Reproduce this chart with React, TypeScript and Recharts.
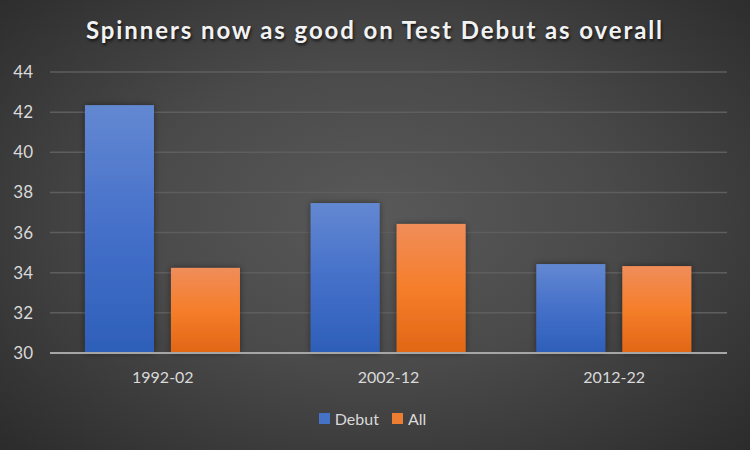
import React from 'react';
import { BarChart, Bar, XAxis, YAxis, CartesianGrid, Legend } from 'recharts';

const categories = ['1992-02', '2002-12', '2012-22'];
const debutValues = [42.35, 37.47, 34.43];
const allValues = [34.24, 36.43, 34.33];
const yTicks = [30, 32, 34, 36, 38, 40, 42, 44];

const data = categories.map((c, i) => ({ period: c, Debut: debutValues[i], All: allValues[i] }));

const FONT = 'Lato, "Open Sans", "Noto Sans", sans-serif';

const makeShape = (gradId: string) => (props: any) => {
  const { x, y, width, height } = props;
  if (!height || height <= 0) return null;
  return <rect x={x} y={y} width={width} height={height} fill={`url(#${gradId})`} filter="url(#barShadow)" />;
};

const LegendContent = () => (
  <div style={{ display: 'flex', justifyContent: 'center', alignItems: 'center', fontFamily: FONT, fontSize: 16, color: '#d9d9d9', paddingLeft: 18, height: 30 }}>
    <span style={{ display: 'inline-block', width: 11, height: 11, background: '#4472c4', marginRight: 5 }} />
    <span style={{ marginRight: 13 }}>Debut</span>
    <span style={{ display: 'inline-block', width: 11, height: 11, background: '#ed7d31', marginRight: 5 }} />
    <span>All</span>
  </div>
);

export default function App() {
  return (
    <div
      style={{
        position: 'absolute',
        left: 0,
        top: 0,
        width: 750,
        height: 450,
        background: 'radial-gradient(ellipse 70% 75% at 50% 48%, #595959 0%, #4a4a4a 45%, #2b2b2b 100%)',
        overflow: 'hidden',
      }}
    >
      <div
        style={{
          position: 'absolute',
          top: 15,
          left: 0,
          width: 750,
          textAlign: 'center',
          fontFamily: FONT,
          fontWeight: 700,
          fontSize: 24,
          letterSpacing: 1.9,
          color: '#f2f2f2',
          textShadow: '1px 2px 3px rgba(0,0,0,0.7)',
        }}
      >
        Spinners now as good on Test Debut as overall
      </div>
      <BarChart
        width={750}
        height={450}
        data={data}
        margin={{ top: 72, right: 23, left: 0, bottom: 17 }}
        barCategoryGap="15.5%"
        barGap={17}
      >
        <defs>
          <linearGradient id="gradBlue" x1="0" y1="0" x2="0" y2="1">
            <stop offset="0%" stopColor="#6388d2" />
            <stop offset="50%" stopColor="#4570c9" />
            <stop offset="100%" stopColor="#2d5fb9" />
          </linearGradient>
          <linearGradient id="gradOrange" x1="0" y1="0" x2="0" y2="1">
            <stop offset="0%" stopColor="#f08d5a" />
            <stop offset="50%" stopColor="#f57e2a" />
            <stop offset="100%" stopColor="#e26616" />
          </linearGradient>
          <filter id="barShadow" x="-20%" y="-10%" width="140%" height="120%">
            <feDropShadow dx="0" dy="0" stdDeviation="3" floodColor="#000" floodOpacity="0.45" />
          </filter>
        </defs>
        <CartesianGrid vertical={false} stroke="#5e5e5e" strokeWidth={1.5} />
        <XAxis
          dataKey="period"
          height={50}
          tickSize={0}
          tickMargin={19}
          axisLine={{ stroke: '#a6a6a6', strokeWidth: 2 }}
          tick={{ fill: '#d9d9d9', fontSize: 16, fontFamily: FONT }}
        />
        <YAxis
          width={50}
          domain={[30, 44]}
          ticks={yTicks}
          interval={0}
          tickSize={0}
          tickMargin={17}
          axisLine={false}
          tick={{ fill: '#d9d9d9', fontSize: 17, fontFamily: FONT }}
        />
        <Legend verticalAlign="bottom" height={30} content={<LegendContent />} />
        <Bar dataKey="Debut" isAnimationActive={false} shape={makeShape('gradBlue')} />
        <Bar dataKey="All" isAnimationActive={false} shape={makeShape('gradOrange')} />
      </BarChart>
    </div>
  );
}
